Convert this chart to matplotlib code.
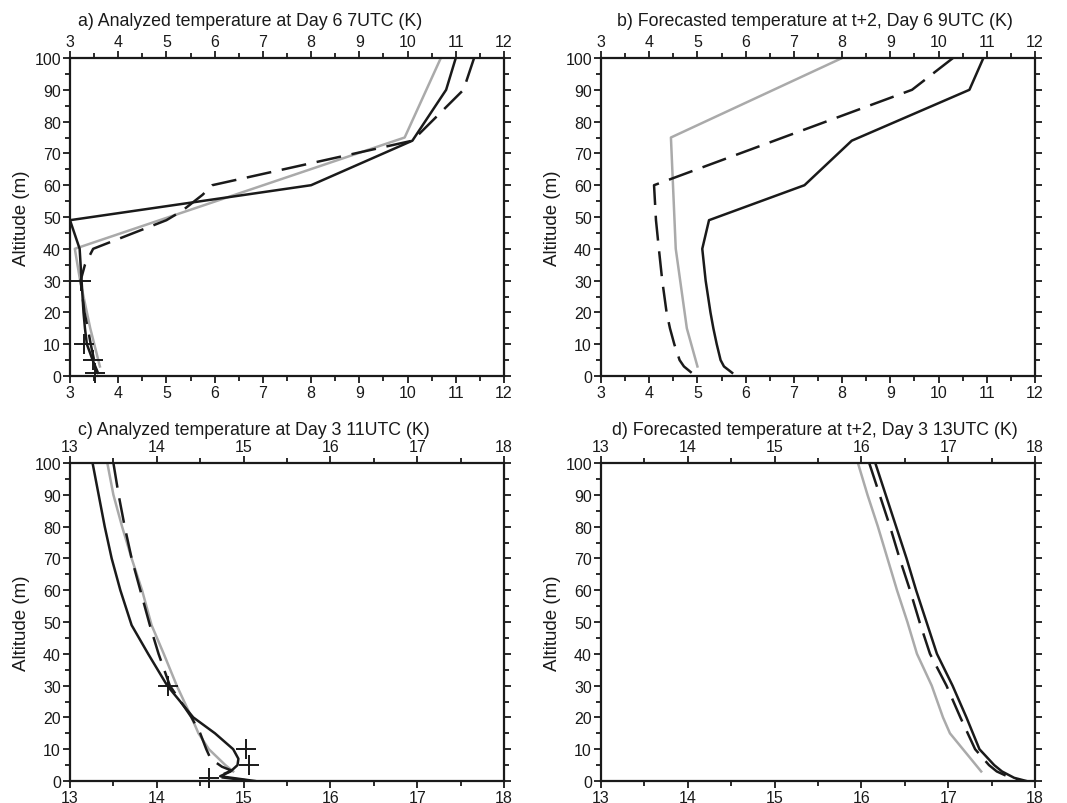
import matplotlib
matplotlib.use("Agg")
import matplotlib.pyplot as plt
from matplotlib.ticker import MultipleLocator

plt.rcParams['font.family'] = ['Liberation Sans', 'DejaVu Sans']

# ---------------- data ----------------
titles = ["a) Analyzed temperature at Day 6 7UTC (K)",
          "b) Forecasted temperature at t+2, Day 6 9UTC (K)",
          "c) Analyzed temperature at Day 3 11UTC (K)",
          "d) Forecasted temperature at t+2, Day 3 13UTC (K)"]
ylabel = "Altitude (m)"

# panel a
a_black_z = [100, 90, 74, 60, 49, 40, 30, 20, 15, 10, 5, 1]
a_black_T = [11.0, 10.8, 10.1, 8.0, 3.0, 3.2, 3.24, 3.28, 3.31, 3.35, 3.47, 3.58]
a_dash_z = [100, 90, 74, 60, 57, 52, 49, 40, 35, 30, 20, 15, 10, 5, 1]
a_dash_T = [11.38, 11.16, 10.1, 5.95, 5.75, 5.33, 5.0, 3.48, 3.31, 3.22, 3.3, 3.37, 3.43, 3.5, 3.55]
a_gray_z = [100, 75, 40, 30, 15, 3]
a_gray_T = [10.69, 9.94, 3.10, 3.21, 3.42, 3.62]
a_obs_z = [30, 10, 5, 1]
a_obs_T = [3.22, 3.28, 3.48, 3.52]

# panel b
b_black_z = [100, 90, 74, 60, 49, 40, 30, 20, 15, 10, 5, 3, 1]
b_black_T = [10.93, 10.64, 8.2, 7.22, 5.24, 5.10, 5.17, 5.27, 5.33, 5.40, 5.48, 5.55, 5.72]
b_dash_z = [100, 90, 60, 49, 40, 30, 20, 15, 10, 5, 3, 1]
b_dash_T = [10.3, 9.45, 4.1, 4.14, 4.2, 4.27, 4.36, 4.43, 4.52, 4.63, 4.72, 4.88]
b_gray_z = [100, 75, 40, 15, 3]
b_gray_T = [8.0, 4.45, 4.55, 4.78, 5.0]

# panel c
c_black_z = [100, 90, 80, 70, 60, 49, 40, 30, 20, 15, 10, 7, 5, 3, 1.5, 0]
c_black_T = [13.26, 13.33, 13.40, 13.48, 13.58, 13.71, 13.9, 14.12, 14.42, 14.67, 14.88, 14.94, 14.93, 14.85, 14.73, 15.13]
c_dash_z = [100, 90, 80, 70, 60, 49, 40, 30, 20, 15, 10, 7, 4.5, 3.3, 1.3, 0]
c_dash_T = [13.5, 13.56, 13.63, 13.71, 13.81, 13.92, 14.02, 14.15, 14.40, 14.5, 14.57, 14.62, 14.75, 14.86, 14.7, 15.1]
c_gray_z = [100, 90, 80, 70, 60, 49, 40, 30, 20, 15, 10, 5, 3]
c_gray_T = [13.43, 13.5, 13.6, 13.71, 13.83, 13.94, 14.08, 14.23, 14.4, 14.48, 14.6, 14.79, 14.88]
c_obs_z = [30, 10, 5, 1]
c_obs_T = [14.13, 15.03, 15.06, 14.6]

# panel d
d_black_z = [100, 90, 80, 70, 60, 50, 40, 30, 20, 10, 5, 3, 1, 0]
d_black_T = [16.16, 16.28, 16.40, 16.52, 16.63, 16.75, 16.87, 17.05, 17.21, 17.36, 17.53, 17.62, 17.76, 17.9]
d_dash_z = [100, 90, 80, 70, 60, 50, 40, 30, 20, 10, 5, 3, 1, 0]
d_dash_T = [16.09, 16.21, 16.33, 16.44, 16.56, 16.67, 16.79, 16.98, 17.14, 17.31, 17.47, 17.56, 17.72, 17.87]
d_gray_z = [100, 90, 80, 70, 60, 50, 40, 30, 20, 15, 3]
d_gray_T = [15.96, 16.07, 16.19, 16.30, 16.41, 16.53, 16.64, 16.81, 16.94, 17.02, 17.38]

xlims = [(3, 12), (3, 12), (13, 18), (13, 18)]

# ---------------- figure ----------------
W, H = 1067, 804
fig = plt.figure(figsize=(W / 100, H / 100), dpi=100)

def px_axes(x0, y0, x1, y1):
    return fig.add_axes([x0 / W, 1 - y1 / H, (x1 - x0) / W, (y1 - y0) / H])

axes = [px_axes(70, 59, 504, 377), px_axes(601, 59, 1035, 377),
        px_axes(70, 464, 504, 782), px_axes(601, 464, 1035, 782)]

BLACK = '#1a1a1a'
GRAY = '#aaaaaa'
LW = 1.8
DASH = (0, (10, 4.3))

panels = [
    (a_black_z, a_black_T, a_dash_z, a_dash_T, a_gray_z, a_gray_T, a_obs_z, a_obs_T),
    (b_black_z, b_black_T, b_dash_z, b_dash_T, b_gray_z, b_gray_T, None, None),
    (c_black_z, c_black_T, c_dash_z, c_dash_T, c_gray_z, c_gray_T, c_obs_z, c_obs_T),
    (d_black_z, d_black_T, d_dash_z, d_dash_T, d_gray_z, d_gray_T, None, None),
]

for i, ax in enumerate(axes):
    bz, bT, dz, dT, gz, gT, oz, oT = panels[i]
    ax.plot(gT, gz, color=GRAY, lw=LW, clip_on=True)
    ax.plot(dT, dz, color=BLACK, lw=LW, linestyle=DASH, clip_on=True)
    ax.plot(bT, bz, color=BLACK, lw=LW, clip_on=True)
    if oz is not None:
        ax.plot(oT, oz, linestyle='none', marker='+', markersize=14,
                markeredgewidth=1.4, color=BLACK, clip_on=False)
    ax.set_xlim(*xlims[i])
    ax.set_ylim(0, 100)
    ax.xaxis.set_major_locator(MultipleLocator(1))
    ax.xaxis.set_minor_locator(MultipleLocator(0.5))
    ax.yaxis.set_major_locator(MultipleLocator(10))
    ax.yaxis.set_minor_locator(MultipleLocator(5))
    ax.tick_params(which='both', direction='out', top=True, right=True,
                   labeltop=True, labelbottom=True, labelleft=True,
                   labelright=False, width=1.3, color=BLACK,
                   labelsize=11.5, labelcolor=BLACK)
    ax.tick_params(which='major', length=5, pad=1.5)
    ax.tick_params(which='minor', length=3.5)
    for s in ax.spines.values():
        s.set_linewidth(1.6)
        s.set_color(BLACK)
    ax.set_ylabel(ylabel, fontsize=13.5, color=BLACK, labelpad=3)

# titles
fig.text(78 / W, 1 - 26 / H, titles[0], ha='left', va='baseline', fontsize=12.8, color=BLACK)
fig.text(815 / W, 1 - 26 / H, titles[1], ha='center', va='baseline', fontsize=12.8, color=BLACK)
fig.text(78 / W, 1 - 435 / H, titles[2], ha='left', va='baseline', fontsize=12.8, color=BLACK)
fig.text(815 / W, 1 - 435 / H, titles[3], ha='center', va='baseline', fontsize=12.8, color=BLACK)

fig.savefig("out.png", dpi=100)
